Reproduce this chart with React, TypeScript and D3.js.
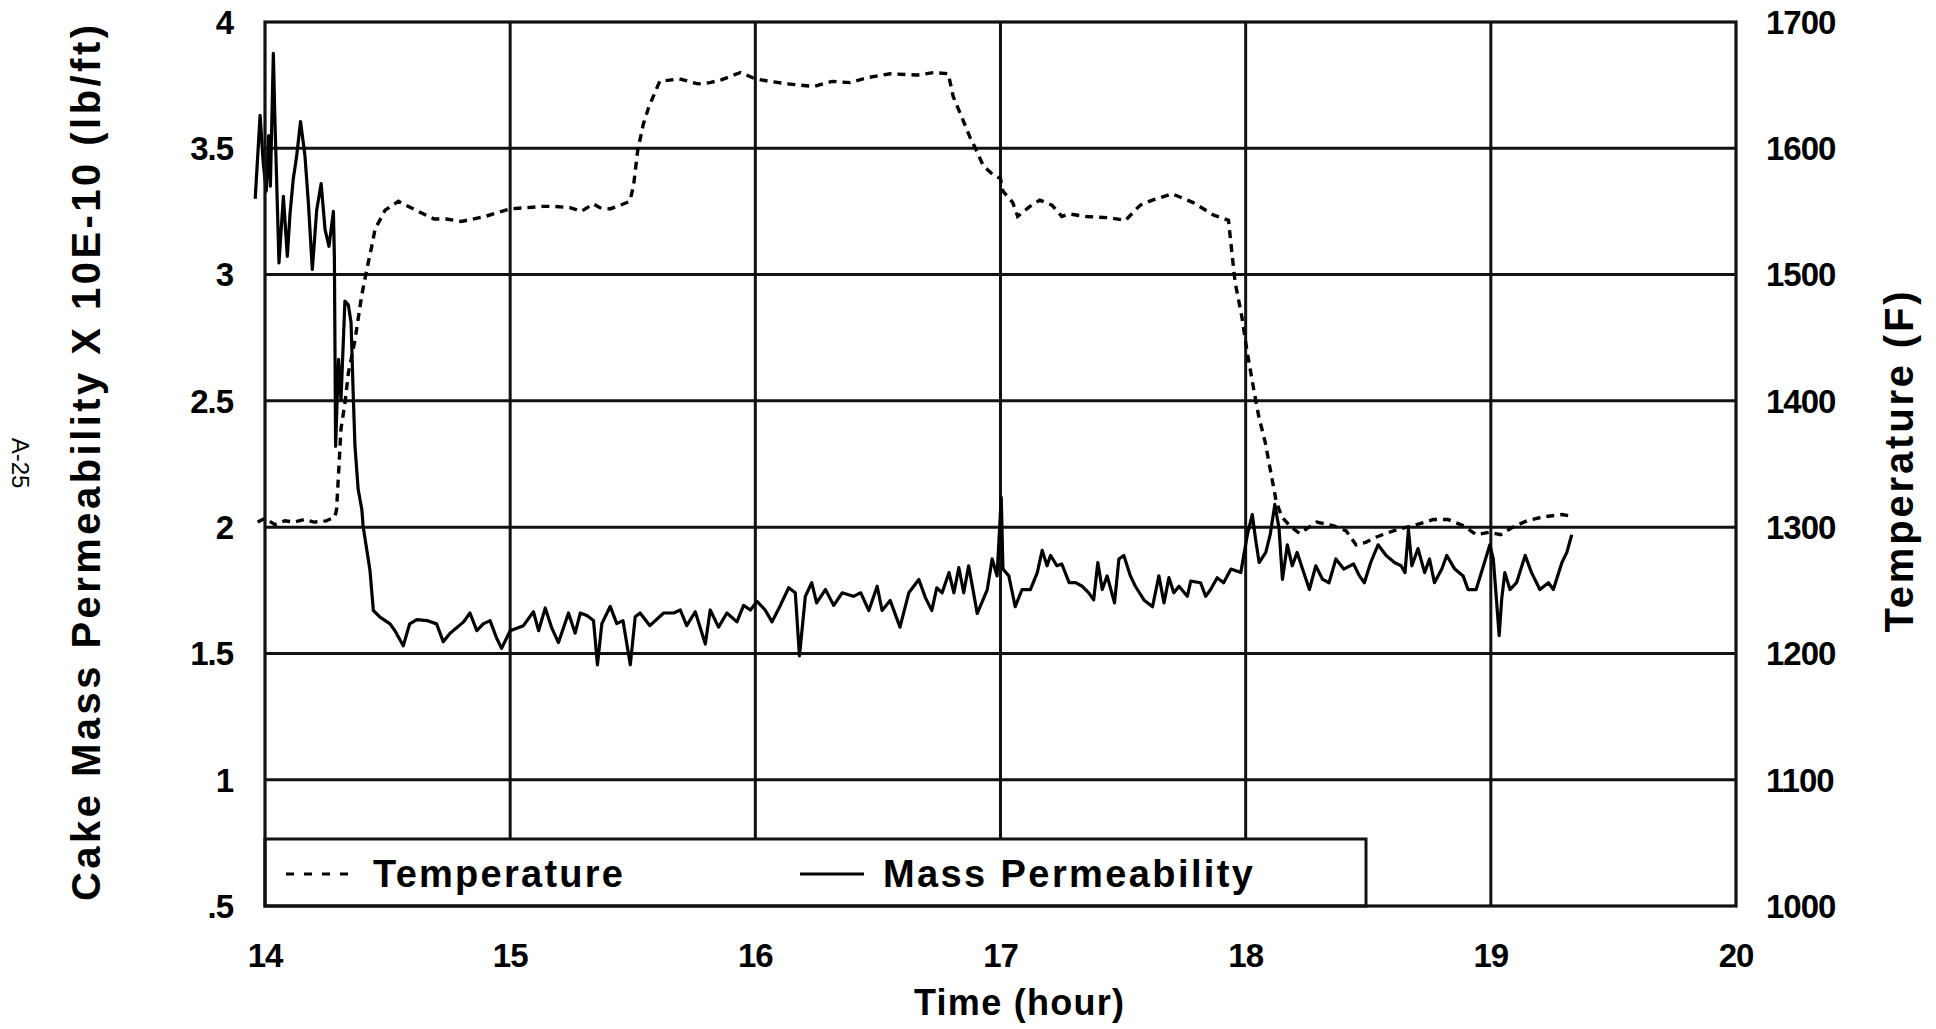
import React from "react";
import * as d3 from "d3";

// ---- data ----
const permTime = [
  13.96, 13.98, 13.993, 14.005, 14.015, 14.022, 14.034, 14.04, 14.057, 14.075, 14.091, 14.102, 14.115, 14.129,
  14.145, 14.163, 14.177, 14.193, 14.211, 14.229, 14.245, 14.261, 14.279, 14.283, 14.288, 14.3, 14.31, 14.326,
  14.34, 14.351, 14.36, 14.367, 14.38, 14.395, 14.4, 14.428, 14.442, 14.469, 14.51, 14.53, 14.564, 14.59, 14.619,
  14.66, 14.7, 14.727, 14.755, 14.81, 14.836, 14.864, 14.89, 14.918, 14.945, 14.965, 15.0, 15.054, 15.095, 15.116,
  15.143, 15.17, 15.197, 15.238, 15.265, 15.286, 15.313, 15.34, 15.356, 15.374, 15.408, 15.435, 15.46, 15.49,
  15.51, 15.53, 15.57, 15.626, 15.667, 15.694, 15.72, 15.755, 15.796, 15.816, 15.85, 15.884, 15.925, 15.952,
  15.98, 16.007, 16.04, 16.068, 16.102, 16.136, 16.163, 16.18, 16.204, 16.23, 16.25, 16.286, 16.32, 16.354,
  16.4, 16.43, 16.463, 16.497, 16.517, 16.55, 16.59, 16.626, 16.667, 16.694, 16.72, 16.74, 16.762, 16.79, 16.81,
  16.83, 16.85, 16.87, 16.89, 16.905, 16.946, 16.966, 16.986, 17.003, 17.01, 17.034, 17.06, 17.088, 17.122,
  17.15, 17.17, 17.19, 17.204, 17.23, 17.25, 17.28, 17.306, 17.333, 17.36, 17.38, 17.397, 17.415, 17.435,
  17.465, 17.483, 17.503, 17.53, 17.55, 17.585, 17.62, 17.646, 17.667, 17.687, 17.707, 17.728, 17.762, 17.776,
  17.816, 17.837, 17.857, 17.884, 17.91, 17.94, 17.98, 18.007, 18.027, 18.04, 18.055, 18.082, 18.1, 18.119,
  18.136, 18.15, 18.17, 18.19, 18.21, 18.232, 18.26, 18.286, 18.314, 18.34, 18.368, 18.4, 18.44, 18.464,
  18.484, 18.51, 18.54, 18.573, 18.607, 18.634, 18.65, 18.664, 18.678, 18.703, 18.73, 18.75, 18.77, 18.8,
  18.82, 18.853, 18.887, 18.907, 18.94, 18.97, 18.996, 19.01, 19.023, 19.034, 19.044, 19.057, 19.078, 19.105,
  19.14, 19.166, 19.2, 19.235, 19.255, 19.29, 19.31, 19.33,
];
const permValue = [
  3.3, 3.63, 3.44, 3.33, 3.55, 3.35, 3.876, 3.63, 3.046, 3.31, 3.072, 3.24, 3.376, 3.468,
  3.606, 3.47, 3.283, 3.02, 3.257, 3.36, 3.178, 3.112, 3.25, 3.07, 2.32, 2.664, 2.506, 2.895,
  2.88, 2.81, 2.52, 2.32, 2.15, 2.07, 2.005, 1.83, 1.67, 1.644, 1.617, 1.59, 1.53, 1.617, 1.634,
  1.63, 1.617, 1.546, 1.58, 1.625, 1.66, 1.59, 1.617, 1.63, 1.56, 1.52, 1.59, 1.61, 1.665, 1.59,
  1.68, 1.6, 1.543, 1.66, 1.58, 1.66, 1.65, 1.63, 1.455, 1.618, 1.686, 1.618, 1.63, 1.455,
  1.645, 1.66, 1.61, 1.66, 1.66, 1.672, 1.61, 1.665, 1.537, 1.672, 1.604, 1.66, 1.625, 1.69,
  1.672, 1.706, 1.672, 1.625, 1.69, 1.76, 1.74, 1.49, 1.726, 1.78, 1.7, 1.753, 1.69, 1.74,
  1.726, 1.74, 1.67, 1.766, 1.67, 1.71, 1.604, 1.74, 1.793, 1.72, 1.67, 1.76, 1.74, 1.82, 1.74,
  1.84, 1.74, 1.847, 1.74, 1.658, 1.753, 1.874, 1.807, 2.118, 1.834, 1.807, 1.685, 1.753, 1.753,
  1.82, 1.908, 1.847, 1.888, 1.847, 1.854, 1.78, 1.78, 1.766, 1.74, 1.712, 1.86, 1.753, 1.807,
  1.7, 1.874, 1.888, 1.807, 1.766, 1.712, 1.685, 1.807, 1.7, 1.8, 1.74, 1.766, 1.726, 1.786,
  1.78, 1.726, 1.753, 1.8, 1.78, 1.834, 1.82, 1.97, 2.05, 1.955, 1.86, 1.9, 1.97, 2.09,
  1.996, 1.793, 1.93, 1.847, 1.9, 1.834, 1.753, 1.847, 1.793, 1.78, 1.874, 1.834, 1.854, 1.807,
  1.78, 1.86, 1.93, 1.888, 1.86, 1.847, 1.82, 1.99, 1.847, 1.915, 1.82, 1.874, 1.78, 1.834,
  1.888, 1.834, 1.807, 1.753, 1.753, 1.847, 1.93, 1.874, 1.712, 1.57, 1.712, 1.82, 1.753, 1.78,
  1.888, 1.82, 1.753, 1.78, 1.753, 1.86, 1.9, 1.97,
];

const tempTime = [
  13.97, 14.0, 14.04, 14.08, 14.12, 14.16, 14.2, 14.25, 14.285, 14.292, 14.31, 14.326, 14.34, 14.367,
  14.394, 14.415, 14.435, 14.449, 14.49, 14.544, 14.625, 14.69, 14.74, 14.8, 14.897, 15.0, 15.067,
  15.135, 15.18, 15.244, 15.29, 15.339, 15.366, 15.407, 15.45, 15.488, 15.503, 15.52, 15.543, 15.566,
  15.61, 15.69, 15.766, 15.815, 15.858, 15.94, 16.0, 16.058, 16.13, 16.24, 16.313, 16.386, 16.46,
  16.55, 16.66, 16.73, 16.787, 16.807, 16.835, 16.875, 16.9, 16.93, 16.97, 17.0, 17.01, 17.05, 17.07,
  17.12, 17.16, 17.21, 17.25, 17.28, 17.35, 17.44, 17.51, 17.57, 17.62, 17.7, 17.786, 17.87, 17.93,
  17.944, 17.957, 17.985, 18.005, 18.033, 18.053, 18.08, 18.1, 18.125, 18.148, 18.18, 18.22, 18.29,
  18.36, 18.41, 18.45, 18.49, 18.53, 18.616, 18.68, 18.765, 18.826, 18.89, 18.94, 18.996, 19.04,
  19.09, 19.147, 19.21, 19.29, 19.32,
];
const tempValue = [
  1304, 1307, 1302, 1305, 1304, 1306, 1304, 1305, 1308, 1314, 1378, 1398, 1422, 1448,
  1483, 1504, 1522, 1536, 1551, 1558, 1550, 1544, 1544, 1542, 1546, 1552, 1553,
  1554, 1554, 1553, 1550, 1556, 1553, 1552, 1555, 1558, 1570, 1598, 1619, 1633,
  1653, 1655, 1651, 1652, 1654, 1660, 1655, 1653, 1651, 1649, 1653, 1652, 1656,
  1659, 1658, 1660, 1659, 1641, 1628, 1609, 1599, 1586, 1579, 1576, 1566, 1557, 1546,
  1554, 1559, 1555, 1546, 1548, 1546, 1545, 1543, 1555, 1559, 1564, 1557, 1547, 1543,
  1517, 1494, 1466, 1440, 1409, 1388, 1367, 1346, 1320, 1308, 1301, 1295, 1304,
  1301, 1297, 1286, 1288, 1292, 1298, 1301, 1306, 1306, 1301, 1294, 1296, 1294,
  1300, 1305, 1308, 1310, 1309,
];

const xTicks = [14, 15, 16, 17, 18, 19, 20];
const leftTicks = [0.5, 1, 1.5, 2, 2.5, 3, 3.5, 4];
const leftTickLabels = [".5", "1", "1.5", "2", "2.5", "3", "3.5", "4"];
const rightTicks = [1000, 1100, 1200, 1300, 1400, 1500, 1600, 1700];

// ---- layout ----
const W = 1936;
const H = 1029;
const L = 265;
const R = 1736;
const T = 22;
const B = 906;
const FONT = "'Liberation Sans', Arial, Helvetica, sans-serif";

export default function App() {
  const x = d3.scaleLinear().domain([14, 20]).range([L, R]);
  const yL = d3.scaleLinear().domain([0.5, 4]).range([B, T]);
  const yR = d3.scaleLinear().domain([1000, 1700]).range([B, T]);

  const permLine = d3
    .line<number>()
    .x((_, i) => x(permTime[i]))
    .y((d) => yL(d))(permValue) as string;
  const tempLine = d3
    .line<number>()
    .x((_, i) => x(tempTime[i]))
    .y((d) => yR(d))(tempValue) as string;

  const legendTop = 839;
  const legendRight = 1366;
  const legendY = 874;

  return (
    <svg
      width={W}
      height={H}
      style={{ position: "absolute", left: 0, top: 0, background: "#fff" }}
      fontFamily={FONT}
    >
      <rect x={0} y={0} width={W} height={H} fill="#fff" />
      {/* grid */}
      {xTicks.slice(1, -1).map((t) => (
        <line key={"vx" + t} x1={x(t)} x2={x(t)} y1={T} y2={B} stroke="#111" strokeWidth={3} />
      ))}
      {leftTicks.slice(1, -1).map((v) => (
        <line key={"hy" + v} x1={L} x2={R} y1={yL(v)} y2={yL(v)} stroke="#111" strokeWidth={3} />
      ))}
      {/* data */}
      <path d={tempLine} fill="none" stroke="#000" strokeWidth={3.4} strokeDasharray="8 6" />
      <path d={permLine} fill="none" stroke="#000" strokeWidth={3.2} strokeLinejoin="round" />
      {/* legend */}
      <rect x={L} y={legendTop} width={legendRight - L} height={B - legendTop} fill="#fff" stroke="#111" strokeWidth={3} />
      <line x1={286} x2={354} y1={legendY} y2={legendY} stroke="#000" strokeWidth={3} strokeDasharray="8 10" />
      <text x={373} y={legendY + 13} fontSize={38} fontWeight="bold" textLength={250} lengthAdjust="spacing">
        Temperature
      </text>
      <line x1={800} x2={864} y1={legendY} y2={legendY} stroke="#000" strokeWidth={3} />
      <text x={883} y={legendY + 13} fontSize={38} fontWeight="bold" textLength={370} lengthAdjust="spacing">
        Mass Permeability
      </text>
      {/* frame */}
      <rect x={L} y={T} width={R - L} height={B - T} fill="none" stroke="#111" strokeWidth={3.2} />
      {/* x ticks */}
      {xTicks.map((t) => (
        <text key={"xt" + t} x={x(t)} y={967} fontSize={33} fontWeight="bold" textAnchor="middle" letterSpacing={-1}>
          {t}
        </text>
      ))}
      {leftTicks.map((v, i) => (
        <text key={"lt" + v} x={233} y={yL(v)} dy="0.36em" fontSize={33} fontWeight="bold" textAnchor="end" letterSpacing={-1}>
          {leftTickLabels[i]}
        </text>
      ))}
      {rightTicks.map((v) => (
        <text key={"rt" + v} x={1766} y={yR(v)} dy="0.36em" fontSize={33} fontWeight="bold" textAnchor="start" letterSpacing={-1}>
          {v}
        </text>
      ))}
      {/* axis titles */}
      <text x={914} y={1015} fontSize={36} fontWeight="bold" textLength={210} lengthAdjust="spacing">
        Time (hour)
      </text>
      <text
        transform={`translate(86,463) rotate(-90)`}
        dy="0.36em"
        fontSize={40}
        fontWeight="bold"
        textAnchor="middle"
        textLength={876}
        lengthAdjust="spacing"
      >
        Cake Mass Permeability X 10E-10 (lb/ft)
      </text>
      <text
        transform={`translate(1899,462) rotate(-90)`}
        dy="0.36em"
        fontSize={40}
        fontWeight="bold"
        textAnchor="middle"
        textLength={341}
        lengthAdjust="spacing"
      >
        Temperature (F)
      </text>
      <text
        transform={`translate(21,463) rotate(90)`}
        dy="0.36em"
        fontSize={24}
        textAnchor="middle"
      >
        A-25
      </text>
    </svg>
  );
}
